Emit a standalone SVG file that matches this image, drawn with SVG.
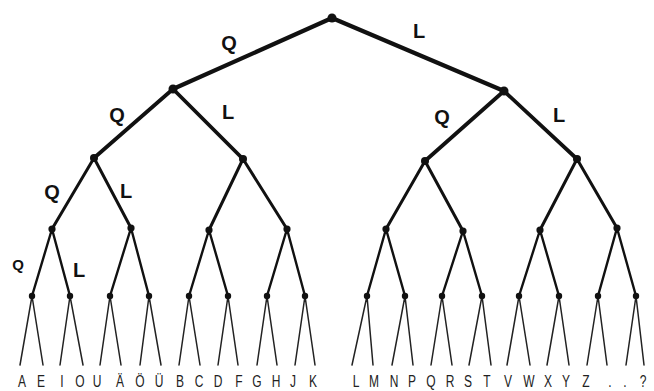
<svg xmlns="http://www.w3.org/2000/svg" width="654" height="391" viewBox="0 0 654 391">
<style>
.e1{stroke:#111;stroke-width:4.2;stroke-linecap:round;fill:none}
.e2{stroke:#111;stroke-width:3.8;stroke-linecap:round;fill:none}
.e3{stroke:#111;stroke-width:3;stroke-linecap:round;fill:none}
.e4{stroke:#111;stroke-width:2.4;stroke-linecap:round;fill:none}
.e5{stroke:#222;stroke-width:1.5;stroke-linecap:round;fill:none}
.n circle{fill:#111}
.lab{font-family:"Liberation Sans",Arial,sans-serif;font-weight:bold;fill:#111;text-anchor:middle}
.leaf{font-family:"Liberation Sans",Arial,sans-serif;font-size:16px;fill:#222;text-anchor:middle}
</style>
<g id="connectors">
<path class="e1" d="M332,18L173,89M332,18L504,91"/>
<path class="e2" d="M173,89L94,158M173,89L243,159M504,91L425,161M504,91L577,159"/>
<path class="e3" d="M94,158L52,229M94,158L131,228M243,159L209,230M243,159L287,229M425,161L386,229M425,161L463,231M577,159L540,230M577,159L617,228"/>
<path class="e4" d="M52,229L32,296M52,229L70,296M131,228L110,296M131,228L149,296M209,230L189,296M209,230L228,296M287,229L267,296M287,229L305,296M386,229L367,296M386,229L405,296M463,231L442,296M463,231L482,296M540,230L519,296M540,230L559,296M617,228L598,296M617,228L636,296"/>
<path class="e5" d="M32,296L20,365M32,296L43,365M70,296L60,365M70,296L83,365M110,296L100,365M110,296L121,365M149,296L140,365M149,296L161,365M189,296L179,365M189,296L200,365M228,296L218,365M228,296L238,365M267,296L257,365M267,296L277,365M305,296L295,365M305,296L315,365M367,296L352,365M367,296L373,365M405,296L392,365M405,296L413,365M442,296L431,365M442,296L452,365M482,296L469,365M482,296L491,365M519,296L507,365M519,296L530,365M559,296L547,365M559,296L569,365M598,296L587,365M598,296L607,365M636,296L626,365M636,296L644,365"/>
</g>
<g id="node-root" class="n"><circle cx="332" cy="18" r="4.5"/></g>
<g id="node-q" class="n"><circle cx="173" cy="89" r="4.5"/></g>
<g id="node-l" class="n"><circle cx="504" cy="91" r="4.5"/></g>
<g id="node-qq" class="n"><circle cx="94" cy="158" r="4"/></g>
<g id="node-ql" class="n"><circle cx="243" cy="159" r="4"/></g>
<g id="node-lq" class="n"><circle cx="425" cy="161" r="4"/></g>
<g id="node-ll" class="n"><circle cx="577" cy="159" r="4"/></g>
<g id="level3" class="n">
<circle cx="52" cy="229" r="3.6"/><circle cx="131" cy="228" r="3.6"/><circle cx="209" cy="230" r="3.6"/><circle cx="287" cy="229" r="3.6"/>
<circle cx="386" cy="229" r="3.6"/><circle cx="463" cy="231" r="3.6"/><circle cx="540" cy="230" r="3.6"/><circle cx="617" cy="228" r="3.6"/>
</g>
<g id="level4" class="n">
<circle cx="32" cy="296" r="3.2"/><circle cx="70" cy="296" r="3.2"/><circle cx="110" cy="296" r="3.2"/><circle cx="149" cy="296" r="3.2"/>
<circle cx="189" cy="296" r="3.2"/><circle cx="228" cy="296" r="3.2"/><circle cx="267" cy="296" r="3.2"/><circle cx="305" cy="296" r="3.2"/>
<circle cx="367" cy="296" r="3.2"/><circle cx="405" cy="296" r="3.2"/><circle cx="442" cy="296" r="3.2"/><circle cx="482" cy="296" r="3.2"/>
<circle cx="519" cy="296" r="3.2"/><circle cx="559" cy="296" r="3.2"/><circle cx="598" cy="296" r="3.2"/><circle cx="636" cy="296" r="3.2"/>
</g>
<g id="edge-labels">
<text class="lab" x="229" y="50" font-size="20">Q</text>
<text class="lab" x="419" y="38" font-size="20">L</text>
<text class="lab" x="117" y="122" font-size="20">Q</text>
<text class="lab" x="228" y="119" font-size="20">L</text>
<text class="lab" x="442" y="124" font-size="20">Q</text>
<text class="lab" x="559" y="122" font-size="20">L</text>
<text class="lab" x="52" y="199" font-size="20">Q</text>
<text class="lab" x="126" y="198" font-size="20">L</text>
<text class="lab" x="18" y="270" font-size="15">Q</text>
<text class="lab" x="79" y="277" font-size="20">L</text>
</g>
<g id="leaves">
<text class="leaf" transform="translate(22,387) scale(0.75,1)">A</text>
<text class="leaf" transform="translate(41,387) scale(0.75,1)">E</text>
<text class="leaf" transform="translate(62,387) scale(0.75,1)">I</text>
<text class="leaf" transform="translate(80,387) scale(0.75,1)">O</text>
<text class="leaf" transform="translate(97,387) scale(0.75,1)">U</text>
<text class="leaf" transform="translate(120,387) scale(0.75,1)">Ä</text>
<text class="leaf" transform="translate(140,387) scale(0.75,1)">Ö</text>
<text class="leaf" transform="translate(159,387) scale(0.75,1)">Ü</text>
<text class="leaf" transform="translate(180,387) scale(0.75,1)">B</text>
<text class="leaf" transform="translate(199,387) scale(0.75,1)">C</text>
<text class="leaf" transform="translate(218,387) scale(0.75,1)">D</text>
<text class="leaf" transform="translate(239,387) scale(0.75,1)">F</text>
<text class="leaf" transform="translate(257,387) scale(0.75,1)">G</text>
<text class="leaf" transform="translate(276,387) scale(0.75,1)">H</text>
<text class="leaf" transform="translate(293,387) scale(0.75,1)">J</text>
<text class="leaf" transform="translate(313,387) scale(0.75,1)">K</text>
<text class="leaf" transform="translate(356,387) scale(0.75,1)">L</text>
<text class="leaf" transform="translate(374,387) scale(0.75,1)">M</text>
<text class="leaf" transform="translate(394,387) scale(0.75,1)">N</text>
<text class="leaf" transform="translate(412,387) scale(0.75,1)">P</text>
<text class="leaf" transform="translate(431,387) scale(0.75,1)">Q</text>
<text class="leaf" transform="translate(450,387) scale(0.75,1)">R</text>
<text class="leaf" transform="translate(468,387) scale(0.75,1)">S</text>
<text class="leaf" transform="translate(487,387) scale(0.75,1)">T</text>
<text class="leaf" transform="translate(508,387) scale(0.75,1)">V</text>
<text class="leaf" transform="translate(529,387) scale(0.75,1)">W</text>
<text class="leaf" transform="translate(548,387) scale(0.75,1)">X</text>
<text class="leaf" transform="translate(566,387) scale(0.75,1)">Y</text>
<text class="leaf" transform="translate(586,387) scale(0.75,1)">Z</text>
<text class="leaf" transform="translate(610,387) scale(0.75,1)">.</text>
<text class="leaf" transform="translate(625,387) scale(0.75,1)">.</text>
<text class="leaf" transform="translate(643,387) scale(0.75,1)">?</text>
</g>
</svg>
